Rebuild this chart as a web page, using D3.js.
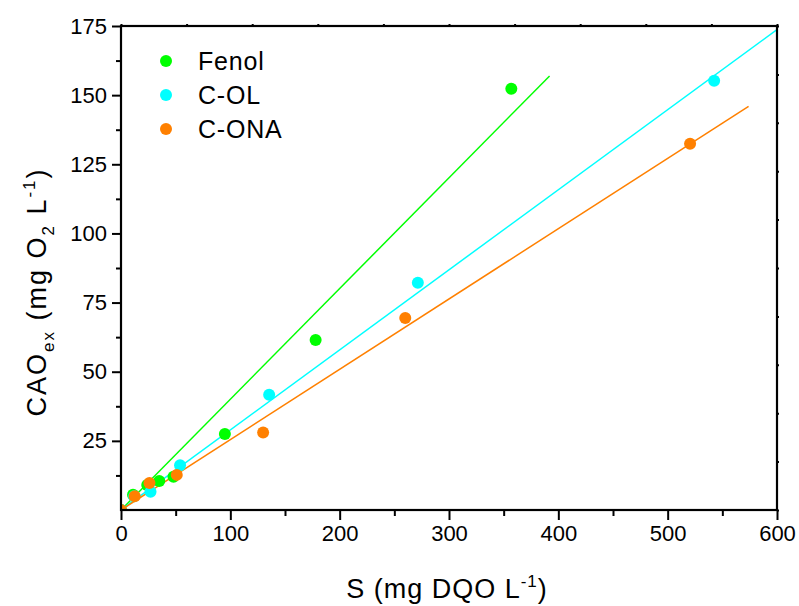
<!DOCTYPE html>
<html><head><meta charset="utf-8">
<script src="https://cdn.jsdelivr.net/npm/d3@7"></script>
<style>body{margin:0;background:#fff}svg{font-family:Arial,"Liberation Sans",sans-serif}</style>
</head><body>
<svg id="c" width="799" height="606"></svg>
<script>
const seriesNames = ["Fenol", "C-OL", "C-ONA"];
const seriesColors = ["#00ff00", "#00ffff", "#ff8000"];
const fenolX = [0, 11, 24, 35, 48, 95, 178, 357];
const fenolY = [0, 5.5, 9, 10.5, 12, 27.5, 61.5, 152.3];
const colX = [0, 12, 27, 54, 135.5, 271.5, 542.5];
const colY = [0, 5, 6.6, 16.2, 41.7, 82.2, 155.2];
const conaX = [0, 12.5, 26, 51, 130, 260, 520.5];
const conaY = [0, 5, 9.8, 12.7, 28, 69.4, 132.4];
const fitSlopes = [0.4004, 0.2895, 0.2543];
const fitXEnd = [392, 600, 574];
const xTicks = [0, 100, 200, 300, 400, 500, 600];
const yTicks = [25, 50, 75, 100, 125, 150, 175];

const seriesX = [fenolX, colX, conaX];
const seriesY = [fenolY, colY, conaY];

const L = 121, R = 777, T = 26, B = 510;
const x = d3.scaleLinear().domain([0, 600]).range([L, R]);
const y = d3.scaleLinear().domain([0, 175]).range([B, T]);
const svg = d3.select("#c");

svg.append("defs").append("clipPath").attr("id", "clip")
  .append("rect").attr("x", L).attr("y", T).attr("width", R - L).attr("height", B - T);

const plot = svg.append("g").attr("clip-path", "url(#clip)");

fitSlopes.forEach((m, i) => {
  plot.append("line")
    .attr("x1", x(0)).attr("y1", y(0))
    .attr("x2", x(fitXEnd[i])).attr("y2", y(m * fitXEnd[i]))
    .attr("stroke", seriesColors[i]).attr("stroke-width", 1.5);
});
seriesX.forEach((xs, i) => {
  plot.append("g").selectAll("circle").data(xs.map((v, k) => [v, seriesY[i][k]]))
    .join("circle").attr("cx", d => x(d[0])).attr("cy", d => y(d[1]))
    .attr("r", 6).attr("fill", seriesColors[i]);
});

const fs = 22;
const xAxis = d3.axisBottom(x).tickValues(xTicks).tickSize(10).tickPadding(5).tickFormat(d3.format("d"));
const gx = svg.append("g").attr("transform", `translate(0,${B})`).call(xAxis);
const xMinor = d3.axisBottom(x).tickValues(d3.range(50, 600, 100)).tickSize(6).tickFormat("");
const gxm = svg.append("g").attr("transform", `translate(0,${B})`).call(xMinor);

const yAxis = d3.axisLeft(y).tickValues(yTicks).tickSize(9).tickPadding(5);
const gy = svg.append("g").attr("transform", `translate(${L},0)`).call(yAxis);
const yMinor = d3.axisLeft(y).tickValues(d3.range(12.5, 175, 25)).tickSize(5).tickFormat("");
const gym = svg.append("g").attr("transform", `translate(${L},0)`).call(yMinor);

const xTop = d3.axisTop(x).tickValues(d3.range(0, 601, 60)).tickSize(2).tickFormat("");
const gt = svg.append("g").attr("transform", `translate(0,${T})`).call(xTop);
const yRight = d3.axisRight(y).tickValues(d3.range(0, 176, 17.5)).tickSize(2).tickFormat("");
const gr = svg.append("g").attr("transform", `translate(${R},0)`).call(yRight);

[gx, gxm, gy, gym, gt, gr].forEach(g => {
  g.select(".domain").remove();
  g.selectAll("line").attr("stroke", "#000").attr("stroke-width", 2);
  g.selectAll("text").attr("font-size", fs).attr("font-family", "Arial, 'Liberation Sans', sans-serif").attr("fill", "#000");
});

svg.append("rect").attr("x", L).attr("y", T).attr("width", R - L).attr("height", B - T)
  .attr("fill", "none").attr("stroke", "#000").attr("stroke-width", 2.2);

const xt = svg.append("text").attr("x", 447).attr("y", 598).attr("text-anchor", "middle")
  .attr("font-size", 27).attr("letter-spacing", 1).attr("fill", "#000");
xt.append("tspan").text("S (mg DQO L");
xt.append("tspan").attr("font-size", 17).attr("dy", -11).text("-1");
xt.append("tspan").attr("dy", 11).text(")");

const yt = svg.append("text").attr("transform", `translate(46,292) rotate(-90)`)
  .attr("text-anchor", "middle").attr("font-size", 27).attr("letter-spacing", 2).attr("fill", "#000");
yt.append("tspan").text("CAO");
yt.append("tspan").attr("font-size", 17).attr("dy", 8).text("ex");
yt.append("tspan").attr("dy", -8).text(" (mg O");
yt.append("tspan").attr("font-size", 17).attr("dy", 8).text("2");
yt.append("tspan").attr("dy", -8).text(" L");
yt.append("tspan").attr("font-size", 17).attr("dy", -11).text("-1");
yt.append("tspan").attr("dy", 11).text(")");

const legY = [61, 95, 129];
seriesNames.forEach((n, i) => {
  svg.append("circle").attr("cx", 166).attr("cy", legY[i]).attr("r", 6).attr("fill", seriesColors[i]);
  svg.append("text").attr("x", 198).attr("y", legY[i] + 9).attr("font-size", 25).attr("letter-spacing", 0.8).attr("fill", "#000").text(n);
});
</script>
</body></html>
